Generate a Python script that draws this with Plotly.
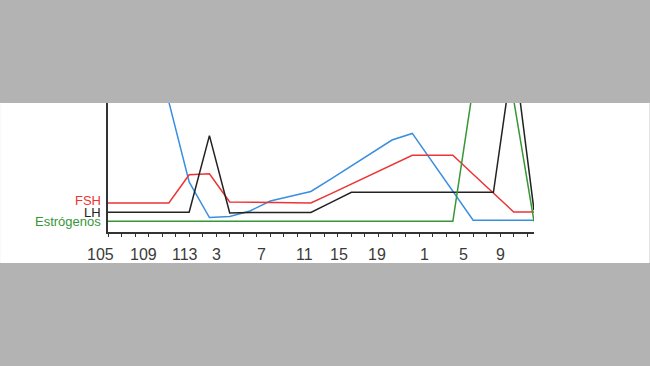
import plotly.graph_objects as go

# x positions: data points on an evenly spaced grid (index 0..21)
x_idx = list(range(22))

# hormone levels (arbitrary units, axis range 0..100; values above 100 are cut off)
fsh = [22.5, 22.5, 22.5, 22.5, 44.4, 45.2, 23.3, 23.0, 22.9, 22.6, 22.5,
       29.8, 37.3, 44.7, 52.1, 59.5, 59.5, 59.5, 44.8, 30.2, 15.5, 15.5]
lh = [15.3, 15.3, 15.3, 15.3, 15.3, 74.7, 14.7, 15.1, 15.1, 15.1, 15.1,
      23.0, 30.8, 30.8, 30.8, 30.8, 30.8, 30.8, 30.8, 30.8, 141.0, 16.8]
estrogenos = [8.3, 8.3, 8.3, 8.3, 8.3, 8.3, 8.3, 8.3, 8.3, 8.3, 8.3,
              8.3, 8.3, 8.3, 8.3, 8.3, 8.3, 8.3, 112.4, 148.8, 102.3, 8.3]
blue_series = [160.0, 160.0, 150.0, 100.8, 38.8, 11.2, 12.0, 16.3, 24.0, 27.9, 31.4,
               41.2, 51.2, 61.2, 71.3, 76.4, 54.0, 31.6, 9.1, 9.1, 9.1, 9.1]

# axis tick labels and their positions on the grid
tick_text = ["105", "109", "113", "3", "7", "11", "15", "19", "1", "5", "9"]
tick_pos = [-0.39, 1.74, 3.79, 5.35, 7.57, 9.70, 11.39, 13.24, 15.62, 17.50, 19.34]

X_RANGE = [0, 21]

series = [
    ("FSH", fsh, "#ec3434", 2),
    ("LH", lh, "#222222", 0),
    ("Estrógenos", estrogenos, "#379637", 0),
]

fig = go.Figure()
fig.add_trace(go.Scatter(x=x_idx, y=blue_series, mode="lines",
                         line=dict(color="#3a8ee0", width=1.5), showlegend=False))
for name, vals, col, _ in series:
    fig.add_trace(go.Scatter(x=x_idx, y=vals, mode="lines", name=name,
                             line=dict(color=col, width=1.5), showlegend=False))

annotations = []
for name, vals, col, ys in series:
    annotations.append(dict(x=x_idx[0], y=vals[0], xref="x", yref="y", text=name,
                            showarrow=False, xanchor="right", yanchor="middle",
                            xshift=-5, yshift=ys,
                            font=dict(family="Liberation Sans, Arial", size=13, color=col)))
span = X_RANGE[1] - X_RANGE[0]
for t, p in zip(tick_text, tick_pos):
    annotations.append(dict(x=(p - X_RANGE[0]) / span, y=-0.174, xref="paper", yref="paper", text=t,
                            showarrow=False, xanchor="center", yanchor="middle",
                            font=dict(family="Liberation Sans, Arial", size=16, color="#3a3a3a")))

L, R, T, B = 108, 115.7, 103, 134
pw = 650 - L - R
ph = 366 - T - B
fig.add_shape(type="rect", xref="paper", yref="paper", layer="below",
              x0=-L / pw, x1=1 + R / pw, y0=-(263 - 232) / ph, y1=1,
              fillcolor="white", line=dict(width=0))

fig.update_layout(
    width=650, height=366,
    margin=dict(l=L, r=R, t=T, b=B, pad=0),
    paper_bgcolor="#b3b3b3", plot_bgcolor="white",
    annotations=annotations,
    showlegend=False,
)
fig.update_xaxes(range=X_RANGE, showgrid=False, zeroline=False, showline=True,
                 linecolor="#333333", linewidth=1.5, ticks="outside", ticklen=3,
                 tickcolor="#333333", tickwidth=1, tick0=0, dtick=2 / 3,
                 showticklabels=False)
fig.update_yaxes(range=[0, 100], showgrid=False, zeroline=False, showline=True,
                 linecolor="#333333", linewidth=1.5, ticks="", showticklabels=False)

fig.write_html("out.html", config={"displayModeBar": False},
               post_script="document.body.style.margin='0';document.body.style.overflow='hidden';")
